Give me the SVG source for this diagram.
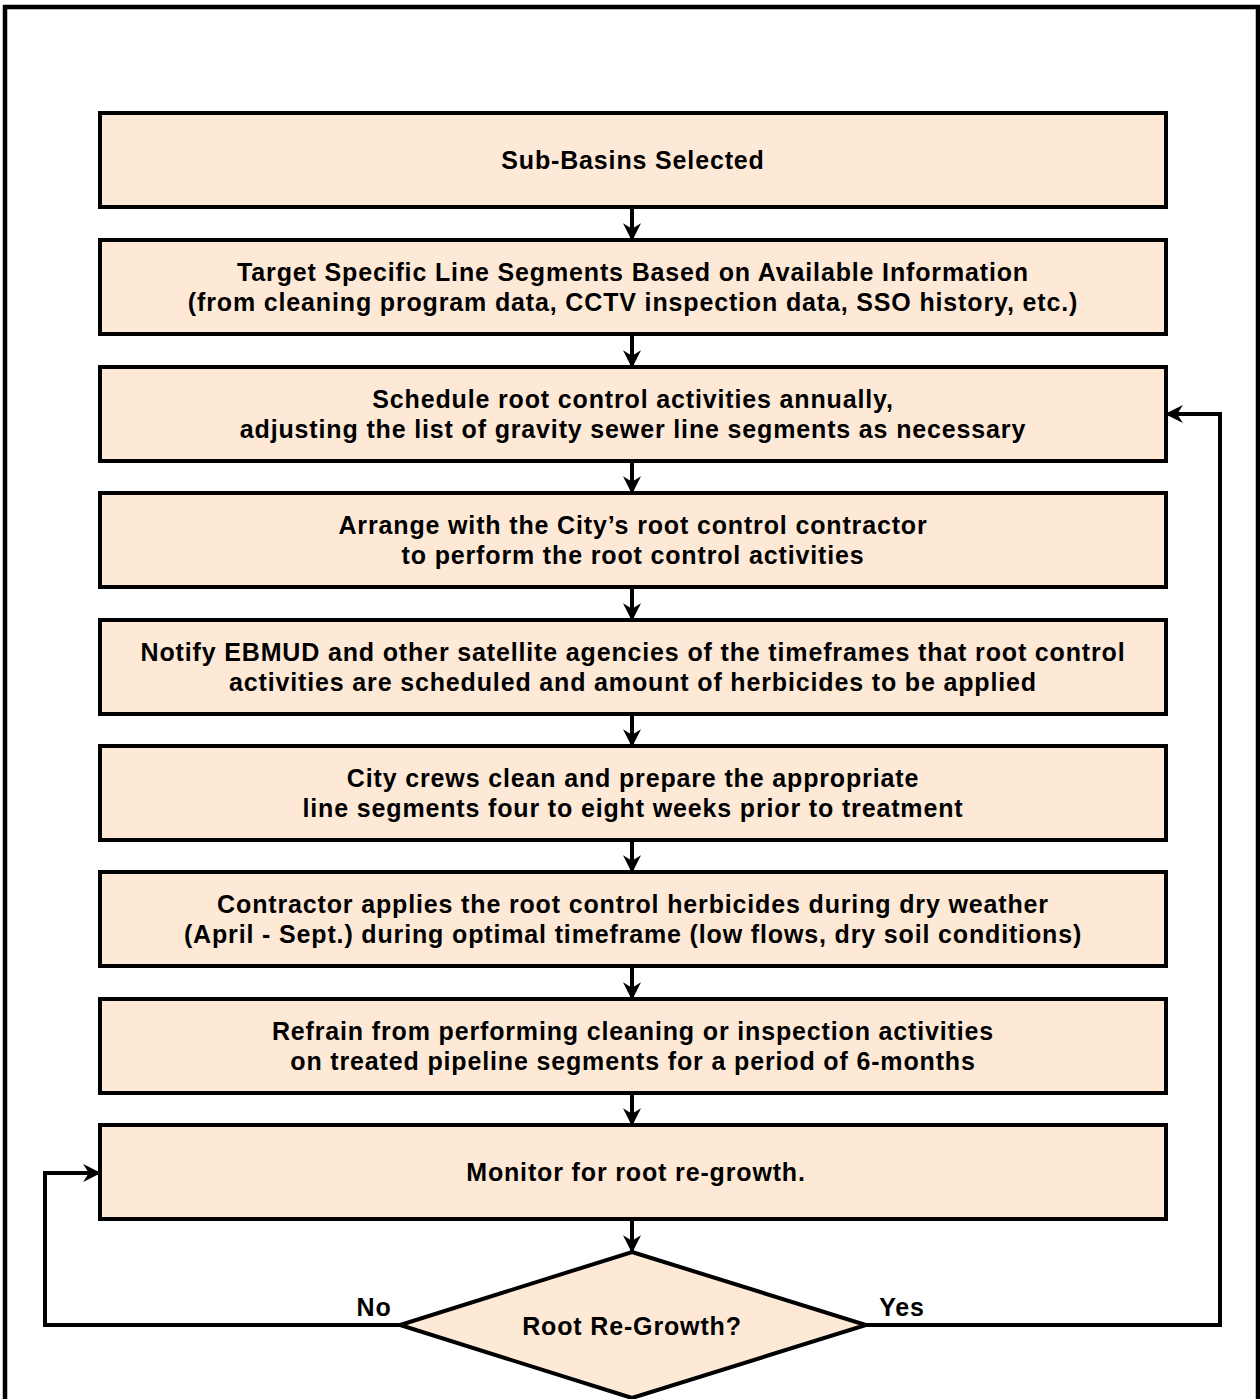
<svg xmlns="http://www.w3.org/2000/svg" width="1260" height="1399" viewBox="0 0 1260 1399">
<style>
.box{fill:#FEE9D6;stroke:#000;stroke-width:4}
.t{font-family:"Liberation Sans",Arial,sans-serif;font-weight:bold;font-size:25px;letter-spacing:0.85px;fill:#000;text-anchor:middle}
.c{fill:none;stroke:#000;stroke-width:4}
</style>
<defs>
<marker id="ah" markerUnits="userSpaceOnUse" markerWidth="18" markerHeight="18" viewBox="0 0 16 16" refX="15" refY="8" orient="auto">
<path d="M0,0 L16,8 L0,16 L5,8 Z" fill="#000"/>
</marker>
</defs>
<rect x="5" y="7" width="1253" height="1400" fill="#fff" stroke="#000" stroke-width="4.5"/>
<g id="n1"><rect class="box" x="100" y="113" width="1066" height="94"/><text class="t" x="633" y="169">Sub-Basins Selected</text></g>
<g id="n2"><rect class="box" x="100" y="240" width="1066" height="94"/><text class="t" x="633" y="281">Target Specific Line Segments Based on Available Information</text><text class="t" x="633" y="311">(from cleaning program data, CCTV inspection data, SSO history, etc.)</text></g>
<g id="n3"><rect class="box" x="100" y="367" width="1066" height="94"/><text class="t" x="633" y="408">Schedule root control activities annually,</text><text class="t" x="633" y="438">adjusting the list of gravity sewer line segments as necessary</text></g>
<g id="n4"><rect class="box" x="100" y="493" width="1066" height="94"/><text class="t" x="633" y="534">Arrange with the City’s root control contractor</text><text class="t" x="633" y="564">to perform the root control activities</text></g>
<g id="n5"><rect class="box" x="100" y="620" width="1066" height="94"/><text class="t" x="633" y="661">Notify EBMUD and other satellite agencies of the timeframes that root control</text><text class="t" x="633" y="691">activities are scheduled and amount of herbicides to be applied</text></g>
<g id="n6"><rect class="box" x="100" y="746" width="1066" height="94"/><text class="t" x="633" y="787">City crews clean and prepare the appropriate</text><text class="t" x="633" y="817">line segments four to eight weeks prior to treatment</text></g>
<g id="n7"><rect class="box" x="100" y="872" width="1066" height="94"/><text class="t" x="633" y="913">Contractor applies the root control herbicides during dry weather</text><text class="t" x="633" y="943">(April - Sept.) during optimal timeframe (low flows, dry soil conditions)</text></g>
<g id="n8"><rect class="box" x="100" y="999" width="1066" height="94"/><text class="t" x="633" y="1040">Refrain from performing cleaning or inspection activities</text><text class="t" x="633" y="1070">on treated pipeline segments for a period of 6-months</text></g>
<g id="n9"><rect class="box" x="100" y="1125" width="1066" height="94"/><text class="t" x="636" y="1181">Monitor for root re-growth.</text></g>
<g id="n10"><polygon class="box" points="632,1252 866,1325 632,1398 400,1325"/><text class="t" x="632" y="1335">Root Re-Growth?</text></g>
<g id="connectors">
<line class="c" x1="632" y1="207" x2="632" y2="240" marker-end="url(#ah)"/>
<line class="c" x1="632" y1="334" x2="632" y2="367" marker-end="url(#ah)"/>
<line class="c" x1="632" y1="461" x2="632" y2="493" marker-end="url(#ah)"/>
<line class="c" x1="632" y1="587" x2="632" y2="620" marker-end="url(#ah)"/>
<line class="c" x1="632" y1="714" x2="632" y2="746" marker-end="url(#ah)"/>
<line class="c" x1="632" y1="840" x2="632" y2="872" marker-end="url(#ah)"/>
<line class="c" x1="632" y1="966" x2="632" y2="999" marker-end="url(#ah)"/>
<line class="c" x1="632" y1="1093" x2="632" y2="1125" marker-end="url(#ah)"/>
<line class="c" x1="632" y1="1219" x2="632" y2="1252" marker-end="url(#ah)"/>
<path class="c" d="M400,1325 H45 V1173 H100" marker-end="url(#ah)"/>
<path class="c" d="M866,1325 H1220 V414 H1166" marker-end="url(#ah)"/>
<text class="t" x="374" y="1316">No</text>
<text class="t" x="902" y="1316">Yes</text>
</g>
</svg>
